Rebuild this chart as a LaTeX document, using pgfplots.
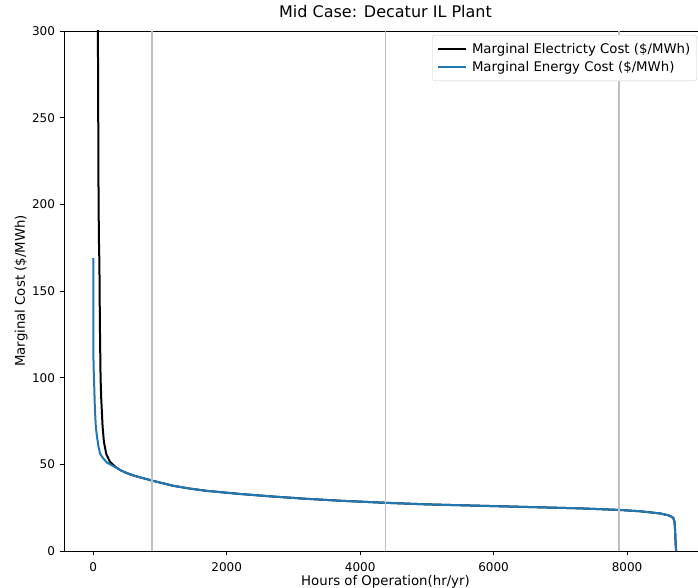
\documentclass[border=0pt]{standalone}
\usepackage{pgfplots}
\pgfplotsset{compat=1.18}
\usepackage{fontspec}
\setmainfont{DejaVu Sans}
\definecolor{mplblue}{HTML}{1F77B4}
\definecolor{vgray}{RGB}{191,191,191}
\definecolor{legedge}{RGB}{204,204,204}
\begin{document}
\begin{tikzpicture}
\useasboundingbox (0,0) rectangle (698pt,588pt);
\clip (0,0) rectangle (698pt,588pt);
\begin{axis}[
  at={(64pt,37pt)}, anchor=south west,
  scale only axis, width=643pt, height=520pt,
  xmin=-438, xmax=9198, ymin=0, ymax=300,
  xtick={0,2000,4000,6000,8000},
  ytick={0,50,100,150,200,250,300},
  tick pos=left, tick align=outside,
  major tick length=4.5pt,
  every tick/.style={black, line width=0.8pt},
  axis line style={black, line width=0.9pt},
  /pgf/number format/assume math mode=true,
  /pgf/number format/set thousands separator={},
  ticklabel style={font=\fontsize{12}{14}\selectfont},
  xticklabel style={anchor=base, yshift=-16pt},
  yticklabel style={anchor=east, xshift=-1pt},
  title={Mid Case: Decatur IL Plant},
  title style={at={(axis description cs:0.5,1.0135)}, anchor=base, font=\fontsize{16}{19}\selectfont},
  xlabel={Hours of Operation(hr/yr)},
  xlabel style={at={(axis description cs:0.5,-0.0673)}, anchor=base, font=\fontsize{13.3}{16}\selectfont},
  ylabel={Marginal Cost (\$/MWh)},
  ylabel style={at={(axis description cs:-0.0607,0.5)}, anchor=base, font=\fontsize{13.3}{16}\selectfont},
  legend cell align=left,
  legend image code/.code={\draw[#1] (0pt,0pt) -- (28pt,0pt);},
  legend style={at={(rel axis cs:0.9844,0.9923)}, anchor=north east,
    draw=legedge, rounded corners=2.5pt, fill=white,
    font=\fontsize{13.3}{16}\selectfont,
    inner xsep=4.5pt, inner ysep=6pt, row sep=2.5pt,
    nodes={inner sep=2pt}},
]
\addplot[black, line width=2pt] coordinates {
(62,330) (70,300) (80,200) (88,172) (92,169) (100,130) (110,100) (120,88)
(140,72) (160,63) (195,56) (250,51.5) (330,48.6) (400,46.8) (480,45.3)
(600,43.6) (700,42.5) (876,40.7) (1000,39.5) (1200,37.6) (1450,36)
(1700,34.7) (2200,32.9) (2700,31.4) (3200,30.1) (3700,29) (4380,27.8)
(5000,26.9) (5800,26.1) (6500,25.4) (7290,24.6) (7880,23.7) (8200,22.9)
(8490,21.7) (8620,20.6) (8690,19.2) (8710,17) (8720,12) (8728,4) (8735,0)
};
\addlegendentry{\hspace{3pt}Marginal Electricty Cost (\$/MWh)}
\addplot[mplblue, line width=2pt] coordinates {
(0,169) (1,168) (2,140) (4,110) (8,103) (15,95) (25,82) (40,71) (60,65)
(80,60) (105,56) (130,54.5) (160,53) (205,51) (300,49) (400,46.8)
(480,45.3) (600,43.6) (700,42.5) (876,40.7) (1000,39.5) (1200,37.6)
(1450,36) (1700,34.7) (2200,32.9) (2700,31.4) (3200,30.1) (3700,29)
(4380,27.8) (5000,26.9) (5800,26.1) (6500,25.4) (7290,24.6) (7880,23.7)
(8200,22.9) (8490,21.7) (8620,20.6) (8690,19.2) (8710,17) (8720,12)
(8728,4) (8735,0)
};
\addlegendentry{\hspace{3pt}Marginal Energy Cost (\$/MWh)}
\addplot[vgray, line width=1.8pt, forget plot] coordinates {(876,0) (876,300)};
\addplot[vgray, line width=1.8pt, forget plot] coordinates {(4380,0) (4380,300)};
\addplot[vgray, line width=1.8pt, forget plot] coordinates {(7884,0) (7884,300)};
\end{axis}
\end{tikzpicture}
\end{document}
